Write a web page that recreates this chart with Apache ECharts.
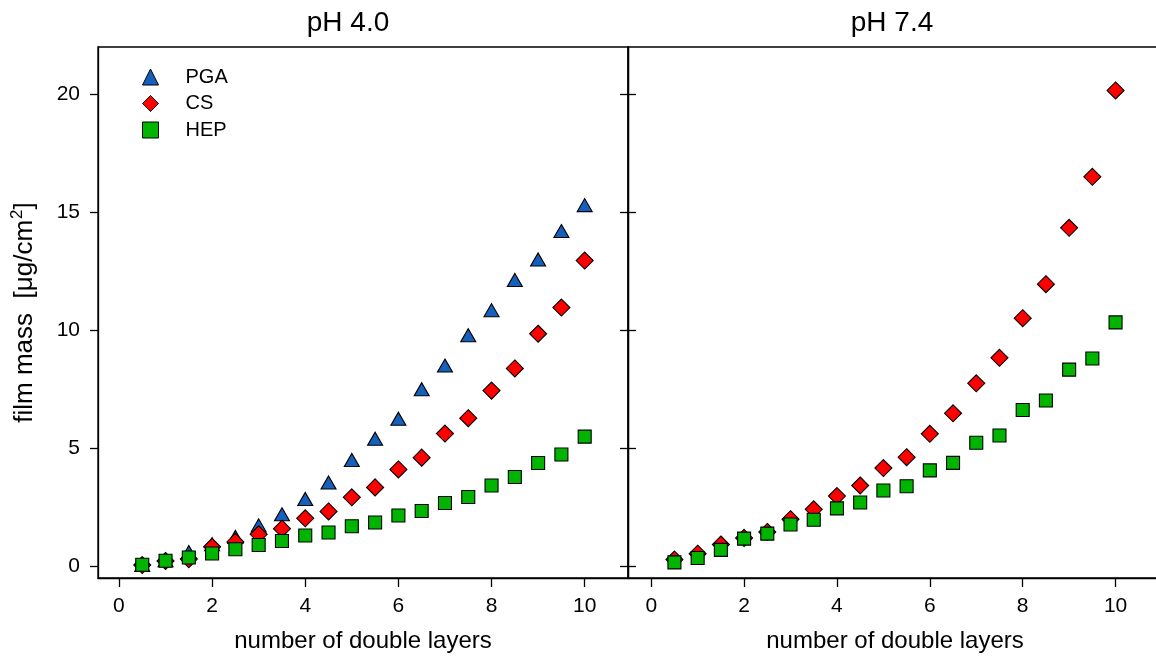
<!DOCTYPE html>
<html>
<head>
<meta charset="utf-8">
<script src="https://cdn.jsdelivr.net/npm/echarts@6/dist/echarts.min.js"></script>
<style>html,body{margin:0;padding:0;background:#fff}#c{width:1156px;height:658px}</style>
</head>
<body>
<div id="c"></div>
<script>
var layers = [0.5,1,1.5,2,2.5,3,3.5,4,4.5,5,5.5,6,6.5,7,7.5,8,8.5,9,9.5,10];
var pga_pH40 = [0.05,0.25,0.6,0.93,1.24,1.73,2.2,2.85,3.55,4.5,5.4,6.25,7.5,8.5,9.79,10.85,12.13,13.0,14.2,15.3];
var cs_pH40 = [0.05,0.22,0.3,0.82,1.03,1.35,1.59,2.03,2.32,2.92,3.34,4.1,4.6,5.62,6.27,7.44,8.38,9.85,10.96,12.95];
var hep_pH40 = [0.06,0.23,0.37,0.54,0.72,0.9,1.07,1.3,1.43,1.69,1.85,2.15,2.34,2.68,2.93,3.42,3.78,4.37,4.73,5.49];
var cs_pH74 = [0.28,0.53,0.92,1.2,1.45,1.99,2.41,2.97,3.42,4.16,4.62,5.61,6.48,7.75,8.83,10.51,11.95,14.34,16.5,20.16];
var hep_pH74 = [0.16,0.35,0.69,1.17,1.38,1.77,1.97,2.45,2.7,3.21,3.39,4.06,4.38,5.23,5.54,6.62,7.02,8.33,8.8,10.33];
var xTicks = [0,2,4,6,8,10];
var yTicks = [0,5,10,15,20];
var panelTitles = ['pH 4.0','pH 7.4'];
var seriesNames = ['PGA','CS','HEP'];

var FONT = 'Arial, "Liberation Sans", sans-serif';
var colors = {PGA:'#1560bd', CS:'#ff0000', HEP:'#00b400'};
var symbols = {PGA:'triangle', CS:'diamond', HEP:'rect'};
var sizes = {PGA:[15,13], CS:[17,17], HEP:[13,13]};

function pts(arr){ return layers.map(function(x,i){return [x,arr[i]];}); }

function xAxisFor(idx, mn, mx){
  return {
    type:'value', gridIndex:idx, min:mn, max:mx,
    name:'number of double layers', nameLocation:'middle', nameGap:51,
    nameTextStyle:{fontFamily:FONT,fontSize:24,color:'#000'},
    axisLine:{show:true,onZero:false,lineStyle:{color:'#000',width:1.3}},
    axisTick:{show:true,inside:false,length:9,customValues:xTicks,lineStyle:{color:'#000',width:1.3}},
    axisLabel:{show:true,customValues:xTicks,margin:18,fontFamily:FONT,fontSize:21,color:'#000'},
    splitLine:{show:false}
  };
}
function yAxisBase(idx, pos, showLabel){
  return {
    type:'value', gridIndex:idx, position:pos, min:-0.5, max:22,
    axisLine:{show:true,onZero:false,lineStyle:{color:'#000',width:1.3}},
    axisTick:{show:true,inside:false,length:8,customValues:yTicks,lineStyle:{color:'#000',width:1.3}},
    axisLabel:{show:showLabel,customValues:yTicks,margin:18,fontFamily:FONT,fontSize:21,color:'#000'},
    splitLine:{show:false}
  };
}

var yLeft = yAxisBase(0,'left',true);
yLeft.name = '{a|film mass  [μg/cm}{s|2}{a|]}';
yLeft.nameLocation = 'middle';
yLeft.nameGap = 58;
yLeft.nameTextStyle = {fontFamily:FONT,fontSize:26,color:'#000',
  rich:{a:{fontFamily:FONT,fontSize:26,color:'#000'},
        s:{fontFamily:FONT,fontSize:17,color:'#000',verticalAlign:'top',padding:[0,0,14,1]}}};

function sc(name, arr, idx){
  return {
    name:name, type:'scatter', xAxisIndex:idx, yAxisIndex:idx===0?0:2,
    data:pts(arr), symbol:symbols[name], symbolSize:sizes[name],
    itemStyle:{color:colors[name],borderColor:'#000',borderWidth:1.1,opacity:1},
    emphasis:{disabled:true}, silent:true
  };
}

var chart = echarts.init(document.getElementById('c'), null, {renderer:'canvas'});
chart.setOption({
  backgroundColor:'#fff',
  animation:false,
  graphic:[
    {type:'text', x:348, y:23, style:{text:panelTitles[0], fontFamily:FONT, fontSize:28, fill:'#000', textAlign:'center', textVerticalAlign:'middle'}},
    {type:'text', x:892, y:23, style:{text:panelTitles[1], fontFamily:FONT, fontSize:28, fill:'#000', textAlign:'center', textVerticalAlign:'middle'}}
  ],
  legend:{
    orient:'vertical', left:137, top:62, itemWidth:16, itemHeight:16, itemGap:6.5,
    data:[
      {name:'PGA', icon:'triangle'},
      {name:'CS', icon:'diamond'},
      {name:'HEP', icon:'rect'}
    ],
    textStyle:{fontFamily:FONT,fontSize:20,color:'#000',lineHeight:16,padding:[0,0,0,22]},
    itemStyle:{borderColor:'#000',borderWidth:1},
    selectedMode:false
  },
  grid:[
    {left:98, top:47, width:530, height:531, outerBoundsMode:'none', containLabel:false, show:true, borderColor:'#000', borderWidth:1.3, backgroundColor:'transparent'},
    {left:628, top:47, width:534, height:531, outerBoundsMode:'none', containLabel:false, show:true, borderColor:'#000', borderWidth:1.3, backgroundColor:'transparent'}
  ],
  xAxis:[xAxisFor(0,-0.45,10.93), xAxisFor(1,-0.5,11)],
  yAxis:[
    yLeft,
    yAxisBase(0,'right',false),
    yAxisBase(1,'left',false)
  ],
  series:[
    sc('PGA', pga_pH40, 0),
    sc('CS', cs_pH40, 0),
    sc('HEP', hep_pH40, 0),
    sc('CS', cs_pH74, 1),
    sc('HEP', hep_pH74, 1)
  ]
});
</script>
</body>
</html>
